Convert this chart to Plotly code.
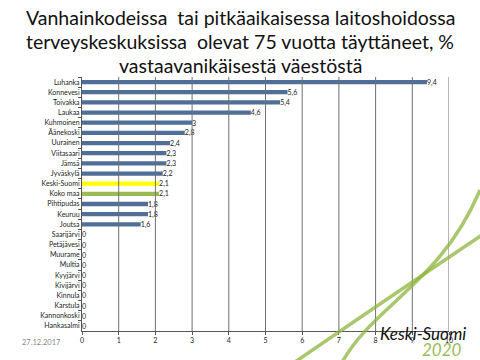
import plotly.graph_objects as go

categories = ["Luhanka", "Konnevesi", "Toivakka", "Laukaa", "Kuhmoinen", "Äänekoski",
              "Uurainen", "Viitasaari", "Jämsä", "Jyväskylä", "Keski-Suomi", "Koko maa",
              "Pihtipudas", "Keuruu", "Joutsa", "Saarijärvi", "Petäjävesi", "Muurame",
              "Multia", "Kyyjärvi", "Kivijärvi", "Kinnula", "Karstula", "Kannonkoski",
              "Hankasalmi"]
values = [9.4, 5.6, 5.4, 4.6, 3, 2.8, 2.4, 2.3, 2.3, 2.2, 2.1, 2.1, 1.8, 1.8, 1.6,
          0, 0, 0, 0, 0, 0, 0, 0, 0, 0]
x_ticks = [0, 1, 2, 3, 4, 5, 6, 7, 8, 9, 10]
title_lines = ["Vanhainkodeissa  tai pitkäaikaisessa laitoshoidossa",
               "terveyskeskuksissa  olevat 75 vuotta täyttäneet, %",
               "vastaavanikäisestä väestöstä"]

BLUE = "#4F6E98"
colors = []
for c in categories:
    if c == "Keski-Suomi":
        colors.append("#FFFF00")
    elif c == "Koko maa":
        colors.append("#9BBB59")
    else:
        colors.append(BLUE)

labels = [f"{v:g}".replace(".", ",") for v in values]

W, H = 480, 360
L, R, T, B = 82, 31, 77, 29
pw, ph = W - L - R, H - T - B

def px(x):
    return (x - L) / pw

def py(y):
    return (H - B - y) / ph

fig = go.Figure()
fig.add_trace(go.Bar(
    x=values, y=categories, orientation="h",
    marker=dict(color=colors, line=dict(width=0)),
    text=labels, textposition="outside", cliponaxis=False,
    constraintext="none",
    textfont=dict(size=7, color="#222222", family="Lato"),
    width=0.42,
))

green = "rgba(140,180,60,0.75)"
pathA = f"M {px(295)},{py(362)} Q {px(400)},{py(290)} {px(482)},{py(235)}"
pathB = (f"M {px(340)},{py(366)} C {px(372)},{py(305)} {px(440)},{py(285)} "
         f"{px(480)},{py(190)}")

# vertical gridlines at the axis tick values
shapes = [dict(type="line", xref="x", yref="y domain", x0=t, x1=t, y0=0, y1=1,
               line=dict(color="#707070", width=1), layer="above")
          for t in x_ticks[1:]]
shapes += [
    dict(type="path", path=pathA, xref="paper", yref="paper",
         line=dict(color=green, width=3.5), layer="above"),
    dict(type="path", path=pathB, xref="paper", yref="paper",
         line=dict(color=green, width=3.5), layer="above"),
]

annotations = []
for i, line in enumerate(title_lines):
    annotations.append(dict(
        text=line, xref="paper", yref="paper", x=px(240), y=py(18 + 23.5 * i),
        xanchor="center", yanchor="middle", showarrow=False,
        font=dict(size=19.5, family="Lato", color="#111111")))
annotations += [
    dict(text="27.12.2017", xref="paper", yref="paper",
         x=px(20), y=py(342), xanchor="left", yanchor="middle",
         showarrow=False, font=dict(size=7.5, color="#888888")),
    dict(text="<i>Keski-Suomi</i>", xref="paper", yref="paper",
         x=px(468), y=py(333), xanchor="right", yanchor="middle",
         showarrow=False, font=dict(size=17, color="#111111", family="Lato")),
    dict(text="<i>2020</i>", xref="paper", yref="paper",
         x=px(464), y=py(349), xanchor="right", yanchor="middle",
         showarrow=False, font=dict(size=17, color="#9BBB59", family="Lato")),
]

fig.update_layout(
    template="none",
    width=W, height=H,
    margin=dict(l=L, r=R, t=T, b=B, pad=0),
    paper_bgcolor="white", plot_bgcolor="white",
    showlegend=False,
    font=dict(family="Lato", color="#222222"),
    xaxis=dict(
        range=[0, 10], tickmode="array", tickvals=x_ticks,
        ticktext=[str(t) for t in x_ticks],
        showgrid=False,
        showline=True, linecolor="#555555", linewidth=1,
        ticks="outside", ticklen=3, tickcolor="#555555",
        tickfont=dict(size=7, color="#222222"), zeroline=False,
        fixedrange=True,
    ),
    yaxis=dict(
        autorange="reversed", showgrid=False,
        showline=True, linecolor="#555555", linewidth=1,
        ticks="outside", ticklen=3, tickcolor="#555555",
        tickfont=dict(size=7, color="#222222"),
        tickson="boundaries", zeroline=False,
        fixedrange=True,
    ),
    shapes=shapes,
    annotations=annotations,
)

fig.write_html("out.html", config={"displayModeBar": False},
               post_script="document.body.style.margin='0';"
                           "document.body.style.overflow='hidden';")
